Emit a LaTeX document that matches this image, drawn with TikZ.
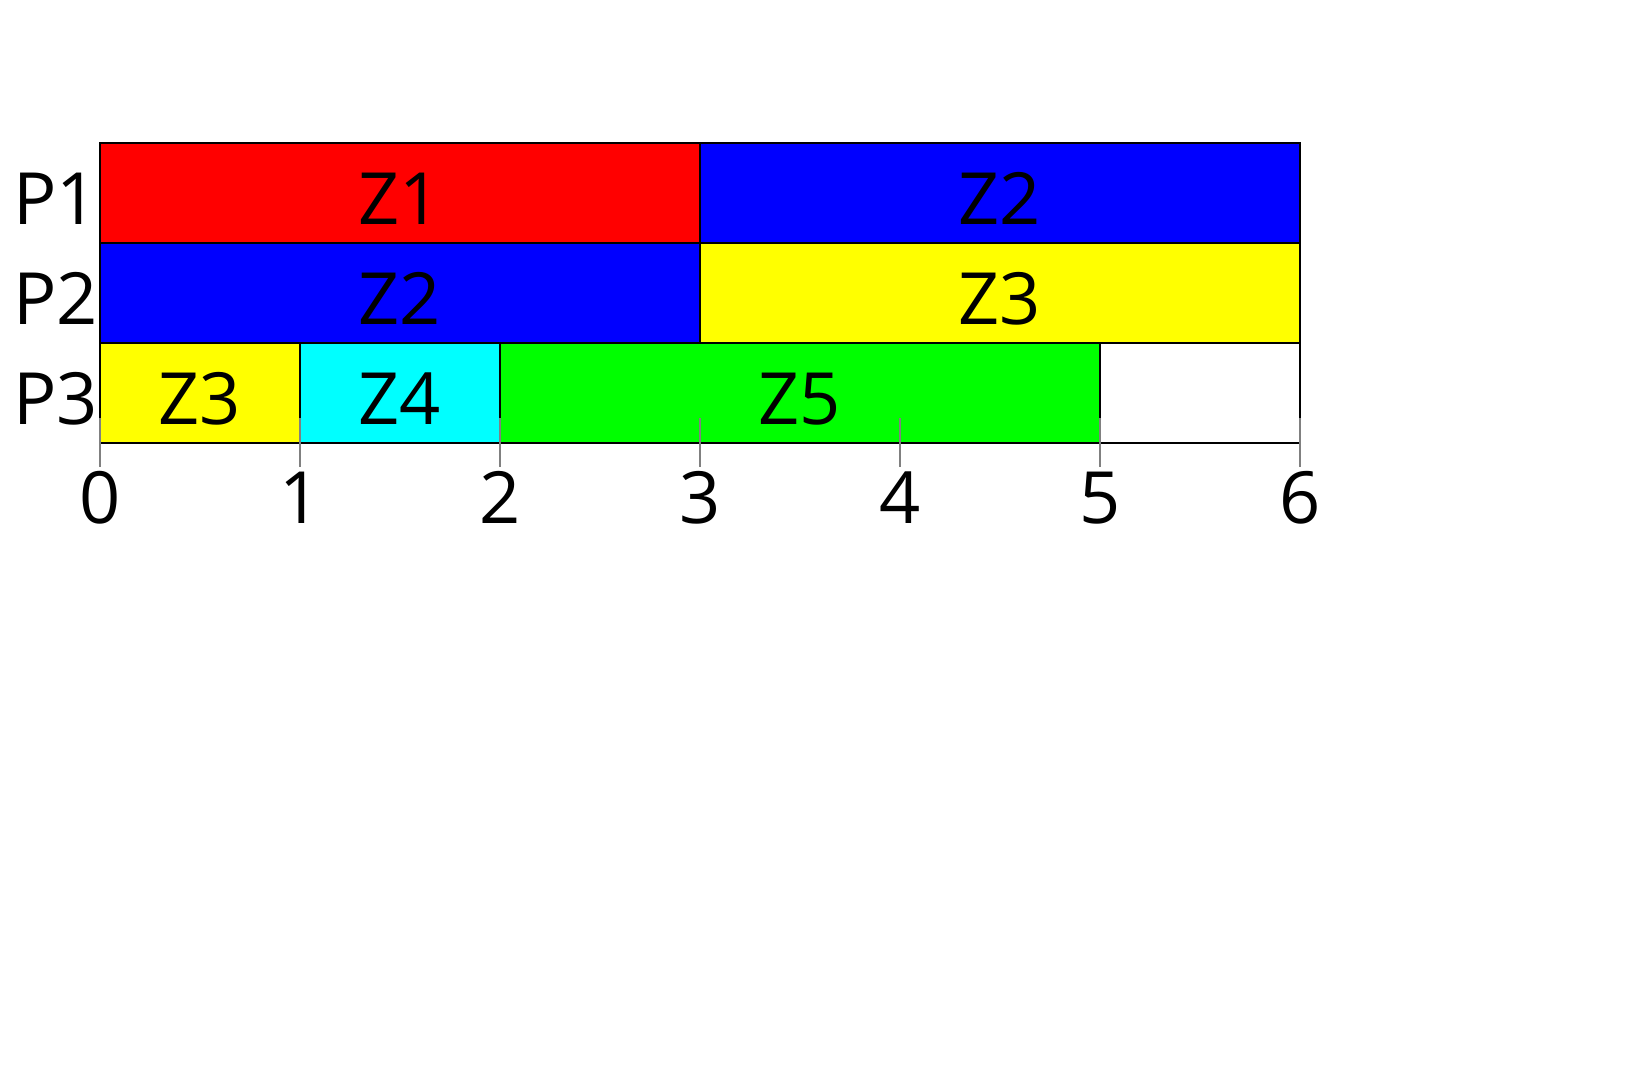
\documentclass[tikz,border=0pt]{standalone}
\usepackage{fontspec}
\setmainfont{Open Sans}
\usetikzlibrary{positioning}
\definecolor{zred}{RGB}{255,0,0}
\definecolor{zblue}{RGB}{0,0,255}
\definecolor{zyellow}{RGB}{255,255,0}
\definecolor{zcyan}{RGB}{0,255,255}
\definecolor{zgreen}{RGB}{0,255,0}

\begin{document}
\begin{tikzpicture}[x=4cm, y=2cm,
    bar/.style={draw=black, line width=0.9pt, inner sep=0pt, outer sep=0pt,
      minimum width=#1*4cm, minimum height=2cm,
      font=\fontsize{41}{41}\selectfont, text height=1.24cm, text depth=0pt},
    lbl/.style={inner sep=0pt, font=\fontsize{41}{41}\selectfont, text height=1.24cm, text depth=0pt},
    num/.style={inner sep=0pt, anchor=base, font=\fontsize{41}{41}\selectfont},
    tickline/.style={draw=gray, line width=0.6pt}
  ]
    \useasboundingbox (-2cm,-12.86cm) rectangle (30.64cm,8.86cm);
    % schedule of the three processors
    \node[bar=3, fill=zred] (p1z1) at (1.5,2.5) {Z1};
    \node[bar=3, fill=zblue] (p1z2) at (4.5,2.5) {Z2};
    \node[bar=3, fill=zblue] (p2z2) at (1.5,1.5) {Z2};
    \node[bar=3, fill=zyellow] (p2z3) at (4.5,1.5) {Z3};
    \node[bar=1, fill=zyellow] (p3z3) at (0.5,0.5) {Z3};
    \node[bar=1, fill=zcyan] (p3z4) at (1.5,0.5) {Z4};
    \node[bar=3, fill=zgreen] (p3z5) at (3.5,0.5) {Z5};
    \node[bar=1, fill=white] (p3idle) at (5.5,0.5) {};
    % processor names
    \node[lbl, anchor=east] (p1) at (-0.01,2.5) {P1};
    \node[lbl, anchor=east] (p2) at (-0.01,1.5) {P2};
    \node[lbl, anchor=east] (p3) at (-0.01,0.5) {P3};
    % time axis
    \foreach \t in {0,...,6} {
      \draw[tickline] (\t,0.25) -- (\t,-0.24);
      \node[num] (t\t) at (\t,-0.8) {\t};
    }
  \end{tikzpicture}
\end{document}
